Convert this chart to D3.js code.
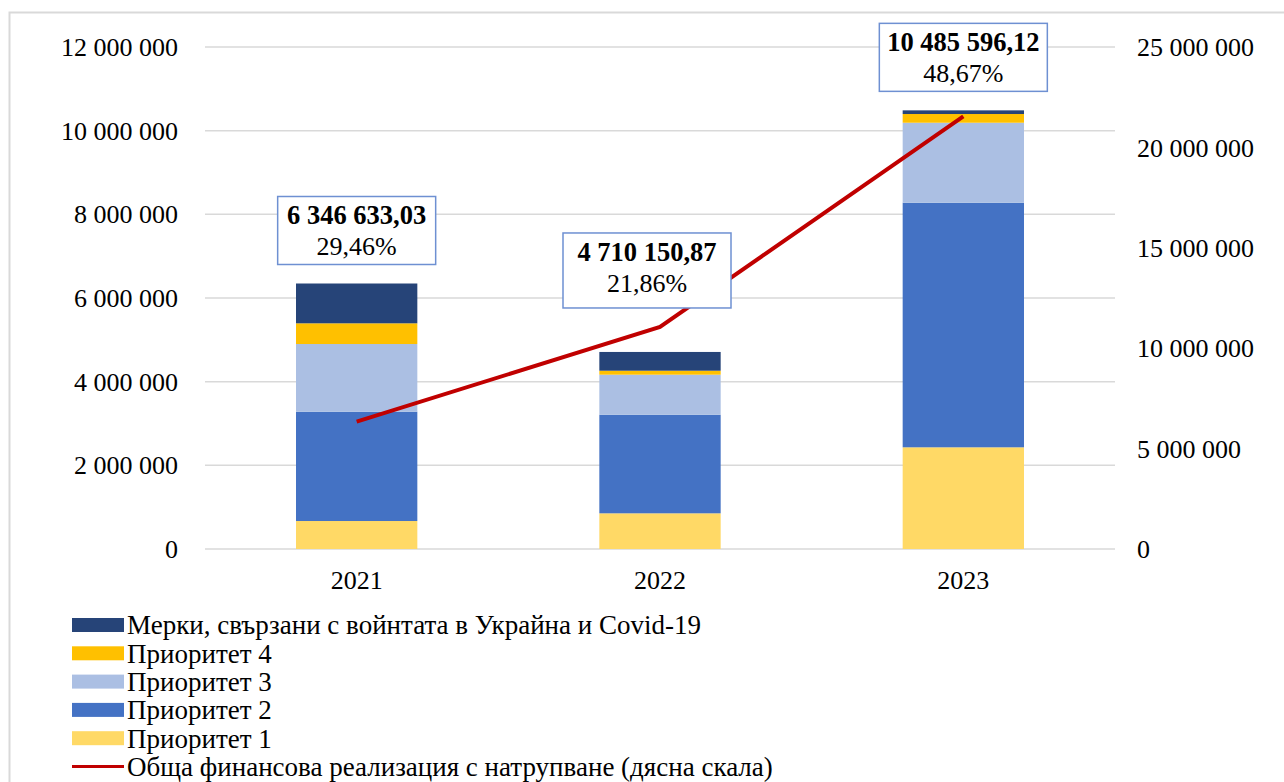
<!DOCTYPE html>
<html>
<head>
<meta charset="utf-8">
<script src="https://cdn.jsdelivr.net/npm/d3@7"></script>
<style>
  body { margin: 0; background: #fff; }
  svg text { font-family: "Liberation Serif", "Times New Roman", Times, "DejaVu Serif", serif; fill: #000; }
</style>
</head>
<body>
<div class="canvas"></div>
<script>
// data
const years = ["2021", "2022", "2023"];
const priority1 = [669000, 853000, 2431000];
const priority2 = [2613000, 2357000, 5847000];
const priority3 = [1618000, 957000, 1912000];
const priority4 = [495000, 95000, 208000];
const warCovid = [951633.03, 448150.87, 87596.12];
const totals = [6346633.03, 4710150.87, 10485596.12];
const shares = [29.46, 21.86, 48.67];
const cumulative = [6346633.03, 11056783.9, 21542380.02];
const leftTicks = [0, 2e6, 4e6, 6e6, 8e6, 10e6, 12e6];
const rightTicks = [0, 5e6, 10e6, 15e6, 20e6, 25e6];

const seriesNames = ["Приоритет 1", "Приоритет 2", "Приоритет 3", "Приоритет 4",
  "Мерки, свързани с войнтата в Украйна и Covid-19"];
const seriesColors = ["#FFD966", "#4472C4", "#ABBFE3", "#FFC000", "#264478"];
const lineName = "Обща финансова реализация с натрупване (дясна скала)";
const lineColor = "#C00000";

const dims = { width: 1284, height: 782 };
const plot = { left: 205, right: 1115, top: 47, bottom: 549 };
const serif = "'Liberation Serif', 'Times New Roman', Times, 'DejaVu Serif', serif";

const locale = d3.formatLocale({ decimal: ",", thousands: " ", grouping: [3], currency: ["", ""] });
const fmtInt = locale.format(",.0f");
const fmt2 = locale.format(",.2f");

const svg = d3
  .select(".canvas")
  .append("svg")
  .attr("width", dims.width)
  .attr("height", dims.height)
  .attr("font-family", serif);

// chart frame
svg.append("path")
  .attr("d", `M9.5,${dims.height} V12.5 H${dims.width}`)
  .attr("fill", "none")
  .attr("stroke", "#d9d9d9")
  .attr("stroke-width", 2);

const x = d3.scaleBand()
  .domain(years)
  .range([plot.left, plot.right])
  .paddingInner(0.6)
  .paddingOuter(0.3);

const y = d3.scaleLinear().domain([0, 12e6]).range([plot.bottom, plot.top]);
const y2 = d3.scaleLinear().domain([0, 25e6]).range([plot.bottom, plot.top]);

// gridlines
svg.append("g")
  .selectAll("line")
  .data(leftTicks)
  .join("line")
  .attr("x1", plot.left)
  .attr("x2", plot.right)
  .attr("y1", (d) => y(d))
  .attr("y2", (d) => y(d))
  .attr("stroke", "#d9d9d9")
  .attr("stroke-width", 1.5);

// left axis labels
svg.append("g")
  .selectAll("text")
  .data(leftTicks)
  .join("text")
  .attr("x", 178)
  .attr("y", (d) => y(d))
  .attr("dy", "0.35em")
  .attr("text-anchor", "end")
  .style("font-size", "26px")
  .text((d) => fmtInt(d));

// right axis labels
svg.append("g")
  .selectAll("text")
  .data(rightTicks)
  .join("text")
  .attr("x", 1137)
  .attr("y", (d) => y2(d))
  .attr("dy", "0.35em")
  .style("font-size", "26px")
  .text((d) => fmtInt(d));

// x labels
svg.append("g")
  .selectAll("text")
  .data(years)
  .join("text")
  .attr("x", (d) => x(d) + x.bandwidth() / 2)
  .attr("y", 589)
  .attr("text-anchor", "middle")
  .style("font-size", "26px")
  .text((d) => d);

// stacked bars
const table = years.map((yr, i) => ({
  year: yr,
  s0: priority1[i],
  s1: priority2[i],
  s2: priority3[i],
  s3: priority4[i],
  s4: warCovid[i],
}));
const keys = ["s0", "s1", "s2", "s3", "s4"];
const stacked = d3.stack().keys(keys)(table);

svg.append("g")
  .selectAll("g")
  .data(stacked)
  .join("g")
  .attr("fill", (d, i) => seriesColors[i])
  .selectAll("rect")
  .data((d) => d)
  .join("rect")
  .attr("x", (d) => x(d.data.year))
  .attr("width", x.bandwidth())
  .attr("y", (d) => y(d[1]))
  .attr("height", (d) => y(d[0]) - y(d[1]));

// cumulative line (right scale)
const line = d3.line()
  .x((d, i) => x(years[i]) + x.bandwidth() / 2)
  .y((d) => y2(d));

svg.append("path")
  .datum(cumulative)
  .attr("d", line)
  .attr("fill", "none")
  .attr("stroke", lineColor)
  .attr("stroke-width", 4);

// total labels in boxes (2022 box sits a bit left of its bar)
const boxShift = [0, -13, 0];
const boxW = [158, 168, 168];
const boxH = [68, 75, 68];
const labels = svg.append("g")
  .selectAll("g")
  .data(years)
  .join("g")
  .attr("transform", (d, i) => {
    const top = Math.min(y(totals[i]), y2(cumulative[i]));
    return `translate(${x(d) + x.bandwidth() / 2 + boxShift[i]}, ${top - 19})`;
  });

labels.append("rect")
  .attr("x", (d, i) => -boxW[i] / 2)
  .attr("y", (d, i) => -boxH[i])
  .attr("width", (d, i) => boxW[i])
  .attr("height", (d, i) => boxH[i])
  .attr("fill", "#fff")
  .attr("stroke", "#6E90D2")
  .attr("stroke-width", 1.5);

labels.append("text")
  .attr("y", (d, i) => -boxH[i] + 28)
  .attr("text-anchor", "middle")
  .style("font-size", "26.5px")
  .style("font-weight", "bold")
  .text((d, i) => fmt2(totals[i]));

labels.append("text")
  .attr("y", (d, i) => -boxH[i] + 59)
  .attr("text-anchor", "middle")
  .style("font-size", "26px")
  .text((d, i) => fmt2(shares[i]) + "%");

// legend
const legendItems = [4, 3, 2, 1, 0].map((i) => ({ name: seriesNames[i], color: seriesColors[i], type: "bar" }))
  .concat([{ name: lineName, color: lineColor, type: "line" }]);

const legend = svg.append("g")
  .selectAll("g")
  .data(legendItems)
  .join("g")
  .attr("transform", (d, i) => `translate(72, ${625 + i * 28.3})`);

legend.filter((d) => d.type === "bar")
  .append("rect")
  .attr("x", 0)
  .attr("y", -7)
  .attr("width", 52)
  .attr("height", 14)
  .attr("fill", (d) => d.color);

legend.filter((d) => d.type === "line")
  .append("line")
  .attr("x1", 0)
  .attr("x2", 52)
  .attr("stroke", (d) => d.color)
  .attr("stroke-width", 3);

legend.append("text")
  .attr("x", 55)
  .attr("dy", "0.35em")
  .style("font-size", "27px")
  .text((d) => d.name);
</script>
</body>
</html>
